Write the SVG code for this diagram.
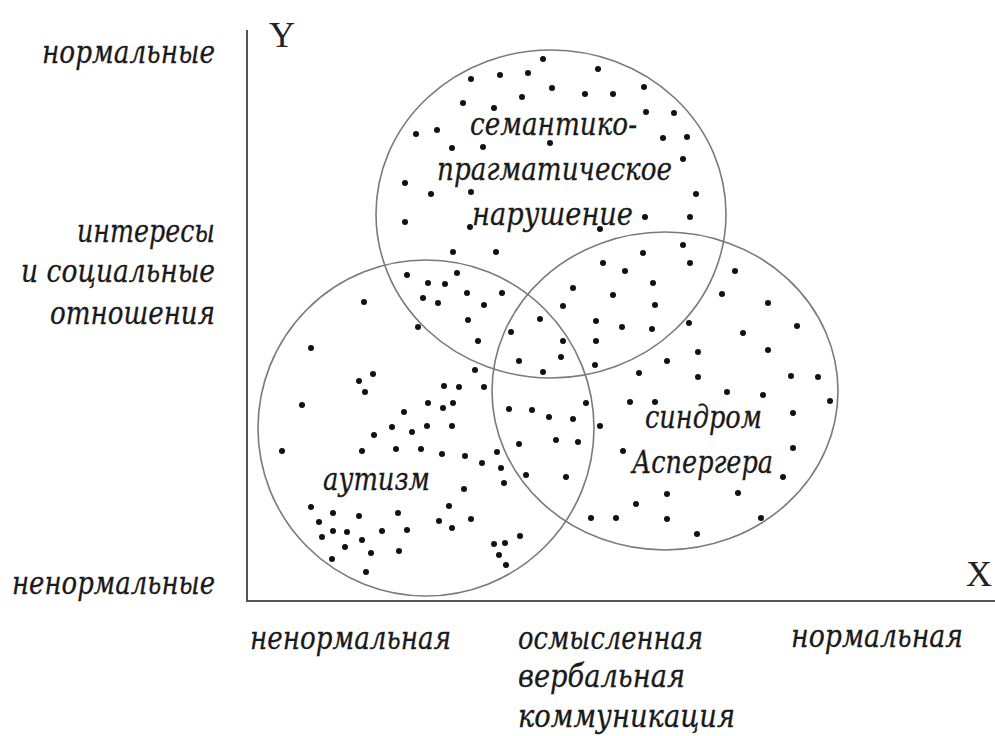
<svg xmlns="http://www.w3.org/2000/svg" width="995" height="736" viewBox="0 0 995 736">
<style>
.t{font-family:"DejaVu Serif","Liberation Serif",serif;font-style:italic;font-size:31px;fill:#1a1a1a;stroke:#1a1a1a;stroke-width:0.3}
.ax{font-family:"Liberation Serif","DejaVu Serif",serif;font-size:36px;fill:#222}
.axis{stroke:#555;stroke-width:2;fill:none}
.c{stroke:#7a7a7a;stroke-width:1.6;fill:none}
.d circle{fill:#111}
</style>
<rect width="995" height="736" fill="#fff"/>
<g id="axes">
<path class="axis" d="M247,30 V601 H995"/>
<text class="ax" x="269" y="47">Y</text>
<text class="ax" x="966" y="586">X</text>
</g>
<g id="y-labels" text-anchor="end">
<text class="t" x="215" y="63" textLength="173" lengthAdjust="spacingAndGlyphs">нормальные</text>
<text class="t" x="215" y="242" textLength="138" lengthAdjust="spacingAndGlyphs">интересы</text>
<text class="t" x="215" y="282" textLength="194" lengthAdjust="spacingAndGlyphs">и социальные</text>
<text class="t" x="215" y="324" textLength="165" lengthAdjust="spacingAndGlyphs">отношения</text>
<text class="t" x="215" y="594" textLength="203" lengthAdjust="spacingAndGlyphs">ненормальные</text>
</g>
<g id="x-labels">
<text class="t" x="250" y="649" textLength="201" lengthAdjust="spacingAndGlyphs">ненормальная</text>
<text class="t" x="518" y="649" textLength="185" lengthAdjust="spacingAndGlyphs">осмысленная</text>
<text class="t" x="518" y="687" textLength="167" lengthAdjust="spacingAndGlyphs">вербальная</text>
<text class="t" x="518" y="727" textLength="217" lengthAdjust="spacingAndGlyphs">коммуникация</text>
<text class="t" x="791" y="647" textLength="172" lengthAdjust="spacingAndGlyphs">нормальная</text>
</g>
<g id="semantic">
<ellipse class="c" cx="551" cy="214" rx="175" ry="164"/>
<text class="t" x="470" y="135" textLength="167" lengthAdjust="spacingAndGlyphs">семантико-</text>
<text class="t" x="437" y="180" textLength="235" lengthAdjust="spacingAndGlyphs">прагматическое</text>
<text class="t" x="472" y="225" textLength="161" lengthAdjust="spacingAndGlyphs">нарушение</text>
</g>
<g id="autism">
<circle class="c" cx="426" cy="428" r="168"/>
<text class="t" x="323" y="490" textLength="107" lengthAdjust="spacingAndGlyphs">аутизм</text>
</g>
<g id="asperger">
<ellipse class="c" cx="665" cy="391" rx="173" ry="159"/>
<text class="t" x="645" y="428" textLength="117" lengthAdjust="spacingAndGlyphs">синдром</text>
<text class="t" x="632" y="473" textLength="141" lengthAdjust="spacingAndGlyphs">Аспергера</text>
</g>
<g id="dots" class="d">
<circle cx="543" cy="59" r="3"/><circle cx="598" cy="69" r="3"/><circle cx="500" cy="75" r="3"/><circle cx="528" cy="73" r="3"/><circle cx="471" cy="79" r="3"/><circle cx="552" cy="88" r="3"/><circle cx="585" cy="94" r="3"/><circle cx="613" cy="94" r="3"/><circle cx="522" cy="97" r="3"/><circle cx="644" cy="87" r="3"/><circle cx="463" cy="103" r="3"/><circle cx="494" cy="108" r="3"/><circle cx="646" cy="112" r="3"/><circle cx="674" cy="113" r="3"/><circle cx="416" cy="134" r="3"/><circle cx="437" cy="130" r="3"/><circle cx="663" cy="138" r="3"/><circle cx="687" cy="137" r="3"/><circle cx="452" cy="148" r="3"/><circle cx="483" cy="147" r="3"/><circle cx="550" cy="143" r="3"/><circle cx="683" cy="159" r="3"/><circle cx="405" cy="183" r="3"/><circle cx="431" cy="194" r="3"/><circle cx="471" cy="192" r="3"/><circle cx="696" cy="194" r="3"/><circle cx="405" cy="222" r="3"/><circle cx="470" cy="227" r="3"/><circle cx="600" cy="229" r="3"/><circle cx="645" cy="217" r="3"/><circle cx="690" cy="217" r="3"/>
<circle cx="453" cy="252" r="3"/><circle cx="496" cy="252" r="3"/><circle cx="603" cy="263" r="3"/><circle cx="407" cy="275" r="3"/><circle cx="457" cy="273" r="3"/><circle cx="428" cy="283" r="3"/><circle cx="445" cy="284" r="3"/><circle cx="423" cy="298" r="3"/><circle cx="438" cy="303" r="3"/><circle cx="467" cy="293" r="3"/><circle cx="502" cy="293" r="3"/><circle cx="484" cy="305" r="3"/><circle cx="573" cy="288" r="3"/><circle cx="613" cy="295" r="3"/><circle cx="563" cy="306" r="3"/><circle cx="468" cy="320" r="3"/><circle cx="540" cy="319" r="3"/><circle cx="596" cy="321" r="3"/><circle cx="418" cy="327" r="3"/><circle cx="511" cy="332" r="3"/><circle cx="478" cy="341" r="3"/><circle cx="563" cy="341" r="3"/><circle cx="596" cy="341" r="3"/><circle cx="561" cy="357" r="3"/><circle cx="519" cy="361" r="3"/><circle cx="595" cy="365" r="3"/><circle cx="543" cy="372" r="3"/><circle cx="475" cy="370" r="3"/><circle cx="373" cy="374" r="3"/><circle cx="444" cy="386" r="3"/><circle cx="459" cy="387" r="3"/><circle cx="484" cy="387" r="3"/>
<circle cx="364" cy="302" r="3"/><circle cx="311" cy="348" r="3"/><circle cx="359" cy="381" r="3"/><circle cx="365" cy="392" r="3"/><circle cx="302" cy="405" r="3"/><circle cx="428" cy="403" r="3"/><circle cx="443" cy="408" r="3"/><circle cx="453" cy="403" r="3"/><circle cx="404" cy="412" r="3"/><circle cx="427" cy="426" r="3"/><circle cx="452" cy="426" r="3"/><circle cx="392" cy="427" r="3"/><circle cx="412" cy="432" r="3"/><circle cx="374" cy="435" r="3"/><circle cx="586" cy="403" r="3"/><circle cx="509" cy="409" r="3"/><circle cx="532" cy="410" r="3"/><circle cx="549" cy="417" r="3"/><circle cx="573" cy="419" r="3"/><circle cx="282" cy="451" r="3"/><circle cx="362" cy="451" r="3"/><circle cx="396" cy="449" r="3"/><circle cx="421" cy="449" r="3"/><circle cx="442" cy="454" r="3"/><circle cx="465" cy="456" r="3"/><circle cx="482" cy="463" r="3"/><circle cx="497" cy="452" r="3"/><circle cx="501" cy="468" r="3"/><circle cx="504" cy="483" r="3"/><circle cx="519" cy="444" r="3"/><circle cx="556" cy="440" r="3"/><circle cx="578" cy="442" r="3"/><circle cx="526" cy="475" r="3"/><circle cx="566" cy="477" r="3"/><circle cx="464" cy="489" r="3"/><circle cx="311" cy="507" r="3"/><circle cx="333" cy="513" r="3"/><circle cx="359" cy="516" r="3"/><circle cx="398" cy="513" r="3"/><circle cx="449" cy="506" r="3"/><circle cx="319" cy="522" r="3"/><circle cx="322" cy="537" r="3"/><circle cx="333" cy="531" r="3"/><circle cx="347" cy="532" r="3"/><circle cx="362" cy="540" r="3"/><circle cx="382" cy="531" r="3"/><circle cx="407" cy="530" r="3"/><circle cx="439" cy="521" r="3"/><circle cx="452" cy="528" r="3"/><circle cx="471" cy="519" r="3"/><circle cx="345" cy="547" r="3"/><circle cx="371" cy="553" r="3"/><circle cx="399" cy="551" r="3"/><circle cx="332" cy="559" r="3"/><circle cx="366" cy="572" r="3"/><circle cx="494" cy="544" r="3"/><circle cx="505" cy="543" r="3"/><circle cx="520" cy="536" r="3"/><circle cx="499" cy="555" r="3"/><circle cx="506" cy="565" r="3"/><circle cx="591" cy="518" r="3"/>
<circle cx="683" cy="245" r="3"/><circle cx="643" cy="253" r="3"/><circle cx="690" cy="263" r="3"/><circle cx="625" cy="271" r="3"/><circle cx="735" cy="271" r="3"/><circle cx="653" cy="283" r="3"/><circle cx="722" cy="294" r="3"/><circle cx="655" cy="305" r="3"/><circle cx="768" cy="303" r="3"/><circle cx="622" cy="327" r="3"/><circle cx="652" cy="329" r="3"/><circle cx="689" cy="323" r="3"/><circle cx="797" cy="326" r="3"/><circle cx="743" cy="333" r="3"/><circle cx="698" cy="352" r="3"/><circle cx="768" cy="350" r="3"/><circle cx="667" cy="361" r="3"/><circle cx="639" cy="373" r="3"/><circle cx="698" cy="377" r="3"/><circle cx="791" cy="376" r="3"/><circle cx="818" cy="377" r="3"/><circle cx="830" cy="401" r="3"/><circle cx="727" cy="392" r="3"/><circle cx="763" cy="395" r="3"/><circle cx="630" cy="402" r="3"/><circle cx="655" cy="402" r="3"/><circle cx="600" cy="426" r="3"/><circle cx="793" cy="413" r="3"/><circle cx="623" cy="451" r="3"/><circle cx="793" cy="448" r="3"/><circle cx="783" cy="477" r="3"/><circle cx="667" cy="494" r="3"/><circle cx="738" cy="493" r="3"/><circle cx="636" cy="504" r="3"/><circle cx="616" cy="518" r="3"/><circle cx="667" cy="519" r="3"/><circle cx="761" cy="518" r="3"/><circle cx="697" cy="534" r="3"/>
</g>
</svg>
